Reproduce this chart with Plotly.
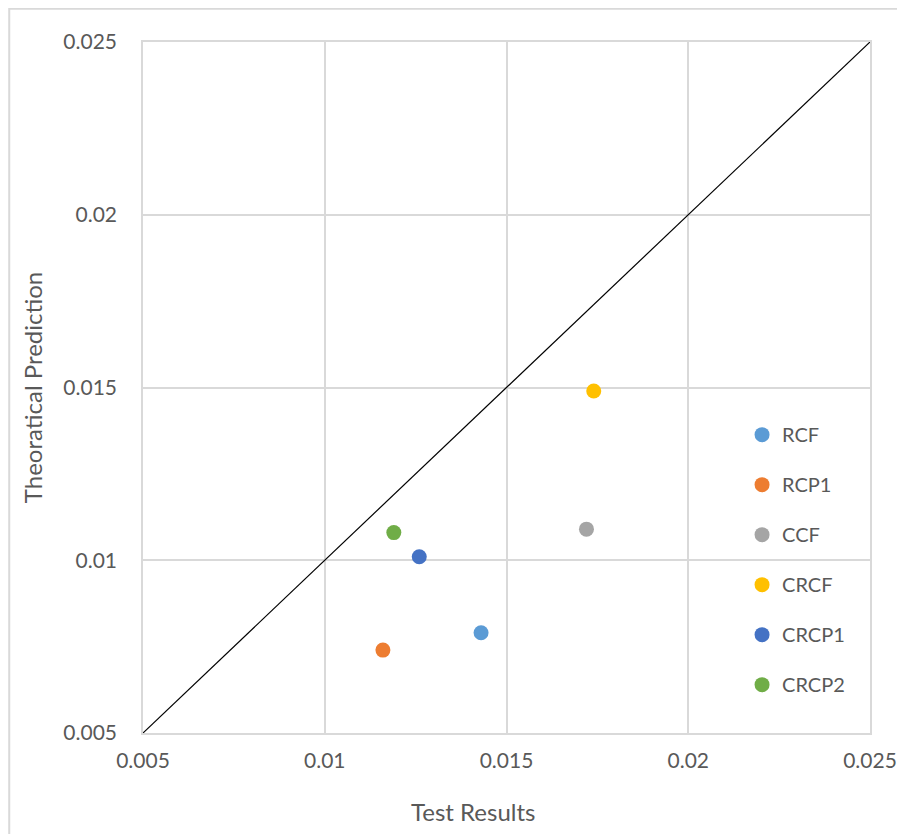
import plotly.graph_objects as go

names = ["RCF", "RCP1", "CCF", "CRCF", "CRCP1", "CRCP2"]
test_results = [0.0143, 0.0116, 0.0172, 0.0174, 0.0126, 0.0119]
theoretical = [0.0079, 0.0074, 0.0109, 0.0149, 0.0101, 0.0108]
colors = ["#5b9bd5", "#ed7d31", "#a5a5a5", "#ffc000", "#4472c4", "#70ad47"]

line_x = [0.005, 0.025]
line_y = [0.005, 0.025]

ticks = [0.005, 0.01, 0.015, 0.02, 0.025]
tick_text = ["0.005", "0.01", "0.015", "0.02", "0.025"]

fig = go.Figure()

fig.add_trace(go.Scatter(x=line_x, y=line_y, mode="lines",
                         line=dict(color="black", width=1.2),
                         showlegend=False, hoverinfo="skip"))

for n, tx, th, c in zip(names, test_results, theoretical, colors):
    fig.add_trace(go.Scatter(x=[tx], y=[th], mode="markers", name=n,
                             legendgroup=n,
                             marker=dict(color=c, size=15)))

font = dict(family="Lato, Open Sans, sans-serif", color="#595959")

# page has an 8px body margin, so the figure is a bit smaller than the window
fig.update_layout(
    width=897, height=826,
    margin=dict(l=135, r=35, t=34, b=101),
    plot_bgcolor="white", paper_bgcolor="white",
    font=dict(size=21, **font),
    legend=dict(x=0.824, y=0.46, xanchor="left", yanchor="top",
                bgcolor="rgba(0,0,0,0)", tracegroupgap=21,
                font=dict(size=20, **font), itemwidth=30),
    shapes=[dict(type="rect", xref="paper", yref="paper",
                 x0=-0.184, x1=1.2, y0=-0.3, y1=1.048,
                 line=dict(color="#d9d9d9", width=2), layer="below")],
    # x title sits left of centre in the original
    annotations=[dict(text="Test Results", xref="paper", yref="paper",
                      x=0.454, y=-0.1143, xanchor="center", yanchor="middle",
                      showarrow=False, font=dict(size=24, **font))],
)

fig.update_xaxes(range=[0.005, 0.025], tickvals=ticks, ticktext=tick_text,
                 showgrid=True, gridcolor="#d9d9d9", gridwidth=1.5,
                 showline=True, linecolor="#d9d9d9", linewidth=1.5, mirror=True,
                 zeroline=False, ticks="outside", ticklen=8,
                 tickcolor="rgba(0,0,0,0)", automargin=False)
fig.update_yaxes(range=[0.005, 0.025], tickvals=ticks, ticktext=tick_text,
                 showgrid=True, gridcolor="#d9d9d9", gridwidth=1.5,
                 showline=True, linecolor="#d9d9d9", linewidth=1.5, mirror=True,
                 zeroline=False, ticks="outside", ticklen=20,
                 tickcolor="rgba(0,0,0,0)", automargin=False,
                 title=dict(text="Theoratical Prediction", font=dict(size=24, **font), standoff=14))

fig.write_html("out.html")
